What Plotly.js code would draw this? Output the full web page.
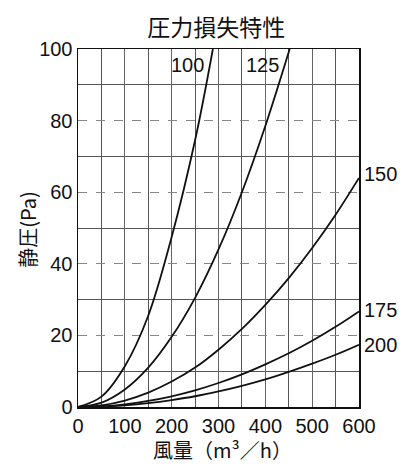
<!DOCTYPE html>
<html>
<head>
<meta charset="utf-8">
<script src="https://cdn.plot.ly/plotly-3.0.1.min.js"></script>
<style>
  body { margin: 0; background: #fff; }
  #chart { width: 416px; height: 470px; }
</style>
</head>
<body>
<div id="chart"></div>
<script>
// air flow (m3/h) and static pressure (Pa)
let flow100 = [0, 50, 100, 150, 200, 250, 288];
let pa100 = [0, 2.9, 11.4, 25.5, 47.5, 74.5, 100];

let flow125 = [0, 50, 100, 150, 200, 250, 300, 350, 400, 452];
let pa125 = [0, 1.2, 4.9, 11, 19.6, 30.5, 44, 60, 78.5, 100];

let flowBig = [0, 50, 100, 150, 200, 250, 300, 350, 400, 450, 500, 550, 600];
let pa150 = [0, 0.45, 1.8, 4, 7.1, 11, 16, 21.8, 28.5, 36, 44.4, 53.7, 64];
let pa175 = [0, 0.19, 0.75, 1.7, 3, 4.65, 6.7, 9.1, 11.9, 15, 18.5, 22.4, 26.7];
let pa200 = [0, 0.12, 0.48, 1.1, 1.95, 3, 4.35, 5.9, 7.7, 9.8, 12.1, 14.6, 17.4];

let sizes = ["100", "125", "150", "175", "200"];

let series = [
    [flow100, pa100],
    [flow125, pa125],
    [flowBig, pa150],
    [flowBig, pa175],
    [flowBig, pa200]
];

let traces = [];
for(let i = 0; i < series.length; i++){
    traces.push({
        x: series[i][0],
        y: series[i][1],
        name: sizes[i],
        mode: "lines",
        type: "scatter",
        line: {color: "#111", width: 1.8, shape: "spline", smoothing: 1},
        hoverinfo: "skip"
    });
}

let num = {family: "Liberation Sans, Arial, sans-serif", size: 20, color: "#111"};
let jp = {family: "Noto Sans CJK JP, sans-serif", size: 20, color: "#111"};

// curve labels: first two sit under the top edge, the rest past the right end
let annotations = [
    {x: 273, y: 95.5, text: sizes[0], xanchor: "right"},
    {x: 433, y: 95.5, text: sizes[1], xanchor: "right"},
    {x: 600, y: pa150[12] + 1, text: sizes[2], xanchor: "left", xshift: 3},
    {x: 600, y: pa175[12] + 0.5, text: sizes[3], xanchor: "left", xshift: 3},
    {x: 600, y: pa200[12], text: sizes[4], xanchor: "left", xshift: 3}
].map(a => Object.assign({showarrow: false, font: num, yanchor: "middle"}, a));

// axis titles placed by hand
annotations.push({
    xref: "paper", yref: "paper", x: 0.516, y: -0.12,
    text: "風量（m³／h）", font: jp, showarrow: false,
    xanchor: "center", yanchor: "middle"
});
annotations.push({
    xref: "paper", yref: "paper", x: -0.178, y: 0.495,
    text: "静圧(Pa)", font: jp, showarrow: false, textangle: -90,
    xanchor: "center", yanchor: "middle"
});

let layout = {
    width: 416,
    height: 470,
    margin: {l: 78, r: 57, t: 49, b: 63},
    paper_bgcolor: "#fff",
    plot_bgcolor: "#fff",
    showlegend: false,
    title: {
        text: "圧力損失特性",
        font: {family: jp.family, size: 23, color: "#111"},
        x: 0.52, xanchor: "center",
        y: 0.94, yanchor: "middle"
    },
    xaxis: {
        range: [0, 600],
        dtick: 100,
        showline: true, mirror: true, linecolor: "#111", linewidth: 1.5,
        showgrid: true, gridcolor: "#666", gridwidth: 1,
        minor: {dtick: 50, showgrid: true, gridcolor: "#555", gridwidth: 1, griddash: "solid"},
        zeroline: false,
        ticks: "",
        tickfont: num
    },
    yaxis: {
        range: [0, 100],
        dtick: 20,
        showline: true, mirror: true, linecolor: "#111", linewidth: 1.5,
        showgrid: true, gridcolor: "#888", gridwidth: 1, griddash: "dash",
        minor: {dtick: 10, showgrid: true, gridcolor: "#555", gridwidth: 1, griddash: "solid"},
        zeroline: false,
        ticks: "",
        tickfont: num
    },
    annotations: annotations
};

Plotly.newPlot("chart", traces, layout, {staticPlot: true});
</script>
</body>
</html>
